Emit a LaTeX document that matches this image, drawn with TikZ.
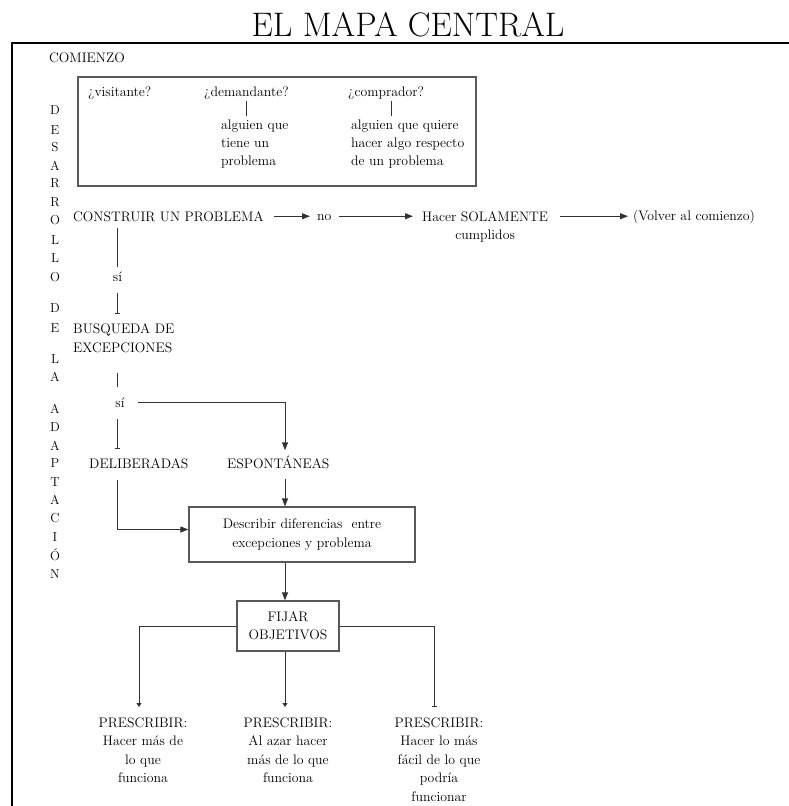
\documentclass[tikz,border=0pt]{standalone}
\usetikzlibrary{arrows.meta,calc}
\begin{document}
\begin{tikzpicture}[x=1pt,y=-1pt,
  txt/.style={font=\fontsize{13.8}{18.2}\selectfont, inner sep=0pt, text=black},
  vl/.style={font=\fontsize{13}{14}\selectfont, inner sep=0pt, anchor=base, text=black},
  conn/.style={draw=black!80, line width=1pt},
  arr/.style={conn, -{Triangle[length=8pt,width=6pt]}},
  tbar/.style={conn, -{Bar[width=5pt]}},
  smallarr/.style={conn, -{Triangle[length=4pt,width=5pt]}},
  box/.style={draw=black!65, line width=1.2pt, inner sep=0pt}]
\useasboundingbox (0,0) rectangle (789,806);
\fill[white] (0,0) rectangle (789,806);
% title and frame
\node[inner sep=0pt, anchor=base, font=\fontsize{34}{36}\selectfont] (title) at (408,36) {EL MAPA CENTRAL};
\draw[line width=2.5pt] (12,806) -- (12,43) -- (789,43);
\node[txt, anchor=base west] (com0) at (49,62) {COMIENZO};
% vertical letters
\foreach \l/\y [count=\i] in {D/110,E/130,S/147,A/166,R/183,R/202,O/220,L/240,L/258,O/277,D/308,E/328,L/359,A/377,A/409,D/427,A/446,P/463,T/482,A/500,C/518,I/537,Ó/556,N/574}
  \node[vl] (v\i) at (55,\y+4.5) {\l};
% roles box
\node[box, minimum width=398pt, minimum height=109pt] (roles) at (277,131.5) {};
\node[txt, anchor=base west] (vis) at (88,96) {¿visitante?};
\node[txt, anchor=base west] (dem) at (204,96) {¿demandante?};
\node[txt, anchor=base west] (com) at (348,96) {¿comprador?};
\node[txt, anchor=base west, align=left] (dq) at (221,165.4) {alguien que\\tiene un\\problema};
\node[txt, anchor=base west, align=left] (cq) at (351,165.4) {alguien que quiere\\hacer algo respecto\\de un problema};
\draw[conn, shorten <=1.5pt, shorten >=3pt] (dem.south) -- (dem.south |- dq.north);
\draw[conn, shorten <=1.5pt, shorten >=3pt] ([xshift=5pt]com.south) -- ([xshift=5pt]com.south |- cq.north);
% construir
\node[txt, anchor=base west] (cp) at (73,221) {CONSTRUIR UN PROBLEMA};
\node[txt, anchor=base west] (no) at (317,220) {no};
\node[txt, anchor=base west] (hs) at (422,221) {Hacer SOLAMENTE};
\node[txt, anchor=base] (cum) at ($(hs.base)+(0,18)$) {cumplidos};
\node[txt, anchor=base west] (vol) at (633,220) {(Volver al comienzo)};
\draw[arr, shorten <=10pt, shorten >=7pt] (cp.east) -- (cp.east -| no.west);
\draw[arr, shorten <=7pt, shorten >=9pt] (no.east |- cp.east) -- (cp.east -| hs.west);
\draw[arr, shorten <=12pt, shorten >=5pt] (hs.east) -- (hs.east -| vol.west);
% vertical chain
\node[txt, anchor=base] (si1) at (117.5,281) {sí};
\draw[conn, shorten <=7pt, shorten >=4pt] (cp.south -| si1) -- (si1.north);
\node[txt, anchor=base west, align=left] (bq) at (73,352) {BUSQUEDA DE\\EXCEPCIONES};
\draw[tbar, shorten <=12pt, shorten >=10pt] (si1.south) -- (si1 |- bq.north);
\node[txt, anchor=base] (si2) at (120,407) {sí};
\draw[conn, shorten <=21pt, shorten >=10pt] (si1 |- bq.south) -- (si1 |- si2.north);
\node[txt, anchor=base west] (del) at (89,468) {DELIBERADAS};
\node[txt, anchor=base west] (esp) at (227,468) {ESPONTÁNEAS};
\draw[tbar, shorten <=12pt, shorten >=9pt] (si1 |- si2.south) -- (si1 |- del.north);
\coordinate (col) at (285,0);
\draw[arr, shorten >=5pt] ([xshift=13pt]si2.east) -- (si2.east -| col) -- (col |- esp.north);
% describir
\node[txt, box, minimum width=226pt, minimum height=55pt, align=center] (desc) at (302,534.5) {Describir diferencias\ \ entre\\excepciones y problema};
\draw[arr, shorten <=11pt] (col |- esp.south) -- (col |- desc.north);
\draw[arr, shorten <=12pt] (si1 |- del.south) |- ([yshift=5pt]desc.west);
% fijar
\node[txt, box, minimum width=102pt, minimum height=50pt, align=center] (fj) at (288,626) {FIJAR\\OBJETIVOS};
\draw[arr] (col |- desc.south) -- (col |- fj.north);
\coordinate (b1) at (139,707);
\coordinate (b2) at (285,707);
\coordinate (b3) at (434,707);
\draw[smallarr] (fj.west) -| (b1);
\draw[smallarr] (col |- fj.south) -- (b2);
\draw[tbar] (fj.east) -| (b3);
\node[txt, anchor=base, align=center, font=\fontsize{13.8}{18.6}\selectfont] (p1) at (143,782.8) {PRESCRIBIR:\\Hacer más de\\lo que\\funciona};
\node[txt, anchor=base, align=center, font=\fontsize{13.8}{18.6}\selectfont] (p2) at (288,782.8) {PRESCRIBIR:\\Al azar hacer\\más de lo que\\funciona};
\node[txt, anchor=base, align=center, font=\fontsize{13.8}{18.6}\selectfont] (p3) at (439,801.4) {PRESCRIBIR:\\Hacer lo más\\fácil de lo que\\podría\\funcionar};
\end{tikzpicture}
\end{document}
